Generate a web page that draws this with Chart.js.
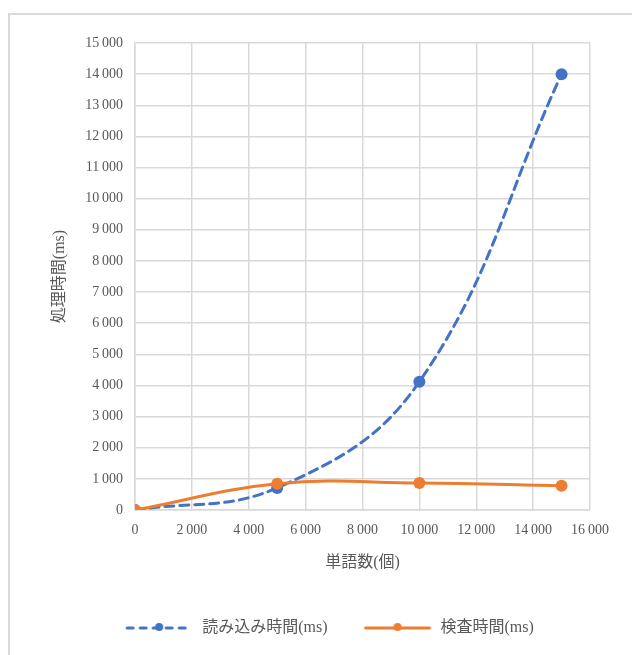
<!DOCTYPE html>
<html>
<head>
<meta charset="utf-8">
<script src="https://cdn.jsdelivr.net/npm/chart.js@4.4.1/dist/chart.umd.min.js"></script>
<style>
  html, body { margin: 0; padding: 0; background: #fff; overflow: hidden; }
  #frame { position: absolute; left: 8px; top: 13px; width: 700px; height: 700px; border: 2px solid #d9d9d9; box-sizing: border-box; }
  #chart { position: absolute; left: 0; top: 0; }
</style>
</head>
<body>
<div id="frame"></div>
<canvas id="chart" width="632" height="655"></canvas>
<script>
// word counts on the x axis
const wordCounts = [0, 5000, 10000, 15000]
// 読み込み時間 (ms)
const loadTimes = [0, 710, 4120, 14000]
// 検査時間 (ms)
const checkTimes = [0, 840, 870, 780]

const seriesNames = ['読み込み時間(ms)', '検査時間(ms)']
const xTitle = '単語数(個)'
const yTitle = '処理時間(ms)'

const blue = '#4472c4'
const orange = '#ed7d31'
const grey = '#595959'
const fontFamily = '"Liberation Serif", "Noto Sans CJK JP", serif'

function fmt(v) {
    // thousands separated by a narrow space
    return String(v).replace(/\B(?=(\d{3})+(?!\d))/g, '\u2009')
}

function legendIcon(color, dashed) {
    const c = document.createElement('canvas')
    c.width = 70
    c.height = 14
    const g = c.getContext('2d')
    g.strokeStyle = color
    g.lineWidth = 3
    g.lineCap = 'round'
    if (dashed) g.setLineDash([6, 7])
    g.beginPath()
    g.moveTo(3, 7)
    g.lineTo(67, 7)
    g.stroke()
    g.fillStyle = color
    g.beginPath()
    g.arc(35, 6, 4, 0, Math.PI * 2)
    g.fill()
    return c
}

const icons = [legendIcon(blue, true), legendIcon(orange, false)]

// fixed legend box height, and a small nudge right, to line up with the reference
const legendTweak = {
    id: 'legendTweak',
    beforeInit(chart) {
        const fit = chart.legend.fit
        chart.legend.fit = function () {
            fit.call(this)
            this.height = 70
        }
    },
    afterLayout(chart) {
        chart.legend.left += 9
        chart.legend.right += 9
    }
}

const ctx = document.getElementById('chart')

new Chart(ctx, {
    type: 'scatter',
    data: {
        datasets: [{
            label: seriesNames[0],
            data: wordCounts.map((x, i) => ({ x: x, y: loadTimes[i] })),
            showLine: true,
            borderColor: blue,
            backgroundColor: blue,
            borderWidth: 3,
            borderDash: [9, 6],
            borderCapStyle: 'round',
            pointRadius: 6,
            pointBorderWidth: 0,
            tension: 0.4,
            order: 2
        }, {
            label: seriesNames[1],
            data: wordCounts.map((x, i) => ({ x: x, y: checkTimes[i] })),
            showLine: true,
            borderColor: orange,
            backgroundColor: orange,
            borderWidth: 3,
            borderCapStyle: 'round',
            pointRadius: 6,
            pointBorderWidth: 0,
            tension: 0.4,
            order: 1
        }]
    },
    options: {
        responsive: false,
        animation: false,
        layout: {
            padding: { top: 43, right: 42, bottom: 0, left: 50 }
        },
        scales: {
            x: {
                type: 'linear',
                min: 0,
                max: 16000,
                ticks: {
                    stepSize: 2000,
                    padding: 12,
                    color: grey,
                    font: { family: fontFamily, size: 14 },
                    maxRotation: 0,
                    callback: v => fmt(v)
                },
                grid: { color: '#d9d9d9', lineWidth: 1.5, drawTicks: false },
                border: { color: '#d9d9d9', width: 1.5 },
                title: {
                    display: true,
                    text: xTitle,
                    color: grey,
                    font: { family: fontFamily, size: 16 },
                    padding: { top: 2, bottom: 13 }
                }
            },
            y: {
                type: 'linear',
                min: 0,
                max: 15000,
                ticks: {
                    stepSize: 1000,
                    padding: 12,
                    color: grey,
                    font: { family: fontFamily, size: 14 },
                    callback: v => fmt(v)
                },
                grid: { color: '#d9d9d9', lineWidth: 1.5, drawTicks: false },
                border: { color: '#d9d9d9', width: 1.5 },
                title: {
                    display: true,
                    text: yTitle,
                    color: grey,
                    font: { family: fontFamily, size: 16 },
                    padding: 0
                },
                afterFit: scale => { scale.width = 85 }
            }
        },
        plugins: {
            tooltip: { enabled: false },
            legend: {
                position: 'bottom',
                labels: {
                    color: grey,
                    font: { family: fontFamily, size: 16 },
                    usePointStyle: true,
                    pointStyleWidth: 70,
                    padding: 35,
                    generateLabels: chart => seriesNames.map((name, i) => ({
                        text: name,
                        pointStyle: icons[i],
                        fontColor: grey,
                        datasetIndex: i,
                        lineWidth: 0,
                        hidden: false
                    }))
                }
            }
        }
    },
    plugins: [legendTweak]
})
</script>
</body>
</html>
